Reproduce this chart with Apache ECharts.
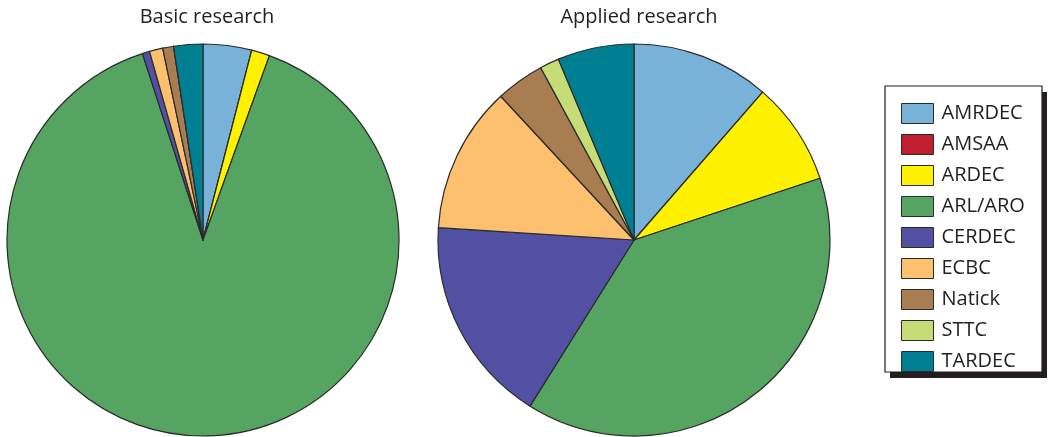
<!DOCTYPE html>
<html>
<head>
<meta charset="utf-8">
<script src="https://cdn.jsdelivr.net/npm/echarts@6/dist/echarts.min.js"></script>
<style>html,body{margin:0;padding:0;background:#fff;}#c{width:1048px;height:437px;}</style>
</head>
<body>
<div id="c"></div>
<script>
var categories = ['AMRDEC','AMSAA','ARDEC','ARL/ARO','CERDEC','ECBC','Natick','STTC','TARDEC'];
var basicValues = [4.0, 0, 1.5, 89.5, 0.6, 1.1, 0.9, 0, 2.4];
var appliedValues = [11.4, 0, 8.5, 39.0, 17.1, 12.1, 4.0, 1.6, 6.3];
var pieTitles = ['Basic research', 'Applied research'];
var colors = ['#79b2d9','#c11f2f','#fff200','#55a462','#5150a2','#fdc06f','#a87d52','#c6dc76','#007f93'];

function toData(vals){
  return categories.map(function(n,i){ return {name:n, value:vals[i]}; });
}
var chart = echarts.init(document.getElementById('c'), null, {renderer:'canvas'});
var font = '"Open Sans", "Noto Sans", sans-serif';
var pieStyle = {borderColor:'#2b2b2b', borderWidth:1.2};
chart.setOption({
  animation:false,
  color: colors,
  title: [
    {text: pieTitles[0], left:202, top:2, textAlign:'center', textStyle:{fontFamily:font, fontSize:20, fontWeight:'normal', color:'#231f20'}},
    {text: pieTitles[1], left:634, top:2, textAlign:'center', textStyle:{fontFamily:font, fontSize:20, fontWeight:'normal', color:'#231f20'}}
  ],
  graphic: [
    {type:'rect', z:0, shape:{x:890, y:92, width:157, height:286}, style:{fill:'#231f20'}},
    {type:'rect', z:1, shape:{x:885, y:86, width:157, height:286}, style:{fill:'#fff', stroke:'#231f20', lineWidth:1.2}}
  ],
  legend: {
    orient:'vertical', left:901, top:103, padding:0, z:10,
    itemWidth:32, itemHeight:20, itemGap:10,
    icon:'rect', selectedMode:false,
    itemStyle:{borderColor:'#2b2b2b', borderWidth:1},
    textStyle:{fontFamily:font, fontSize:20, color:'#231f20', padding:[0,0,0,3]},
    data: categories
  },
  series: [
    {type:'pie', center:[203,240], radius:196, startAngle:90, clockwise:true,
     label:{show:false}, labelLine:{show:false}, silent:true, itemStyle:pieStyle,
     data: toData(basicValues)},
    {type:'pie', center:[634,240], radius:196, startAngle:90, clockwise:true,
     label:{show:false}, labelLine:{show:false}, silent:true, itemStyle:pieStyle,
     data: toData(appliedValues)}
  ]
});
</script>
</body>
</html>
